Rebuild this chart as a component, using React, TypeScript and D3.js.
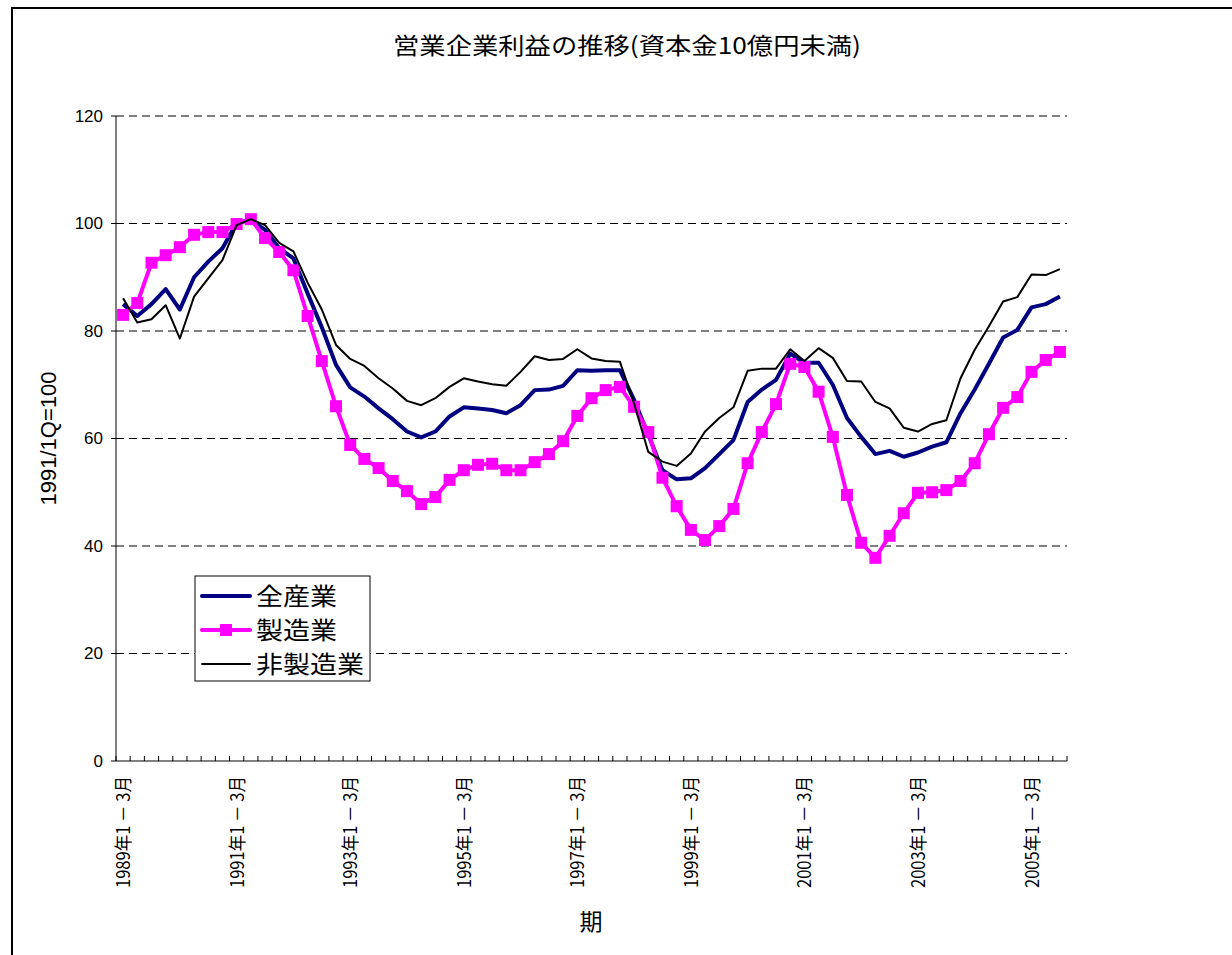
import React from 'react';
import * as d3 from 'd3';

// quarters 1989 Q1 .. 2005 Q3
const startYear = 1989;
const quarterCount = 67;
const quarters = d3.range(quarterCount).map((i) => {
  const y = startYear + Math.floor(i / 4);
  const q = i % 4;
  const m = ['1 － 3月', '4 － 6月', '7 － 9月', '10 － 12月'][q];
  return `${y}年${m}`;
});

const allIndustry = [
  85.0, 82.8, 85.0, 87.8, 84.0, 90.0, 92.9, 95.4, 100.1, 100.7,
  98.8, 95.4, 93.5, 87.0, 80.7, 73.7, 69.5, 67.8, 65.6, 63.6,
  61.3, 60.2, 61.3, 64.1, 65.8, 65.6, 65.3, 64.7, 66.2, 69.0,
  69.1, 69.8, 72.7, 72.6, 72.7, 72.7, 67.2, 60.7, 54.1, 52.4,
  52.6, 54.5, 57.1, 59.7, 66.8, 69.1, 70.9, 75.8, 74.1, 74.1,
  70.0, 63.8, 60.3, 57.1, 57.7, 56.6, 57.4, 58.5, 59.3, 64.7,
  69.1, 73.9, 78.8, 80.2, 84.4, 85.0, 86.4,
];

const manufacturing = [
  83.0, 85.2, 92.7, 94.1, 95.6, 97.9, 98.4, 98.4, 99.9, 100.8,
  97.3, 94.7, 91.3, 82.8, 74.4, 66.0, 58.8, 56.2, 54.5, 52.1,
  50.2, 47.8, 49.1, 52.3, 54.1, 55.1, 55.3, 54.1, 54.1, 55.6,
  57.1, 59.5, 64.2, 67.5, 69.0, 69.6, 65.9, 61.2, 52.7, 47.4,
  43.0, 41.1, 43.7, 46.9, 55.4, 61.2, 66.4, 73.9, 73.3, 68.7,
  60.3, 49.5, 40.6, 37.8, 41.9, 46.1, 49.9, 50.0, 50.4, 52.1,
  55.4, 60.8, 65.7, 67.7, 72.4, 74.6, 76.1,
];

const nonManufacturing = [
  86.1, 81.6, 82.2, 84.8, 78.6, 86.4, 89.8, 93.2, 99.7, 100.8,
  99.7, 96.4, 94.8, 89.0, 84.0, 77.4, 74.8, 73.5, 71.2, 69.3,
  67.0, 66.2, 67.5, 69.6, 71.2, 70.6, 70.1, 69.8, 72.4, 75.3,
  74.6, 74.8, 76.6, 74.9, 74.4, 74.3, 66.5, 57.5, 55.7, 54.9,
  57.2, 61.3, 63.8, 65.8, 72.6, 73.0, 73.0, 76.6, 74.4, 76.8,
  75.0, 70.7, 70.6, 66.8, 65.6, 62.0, 61.3, 62.7, 63.4, 71.2,
  76.5, 80.9, 85.5, 86.3, 90.5, 90.4, 91.5,
];

const yTicks = [0, 20, 40, 60, 80, 100, 120];

const seriesNames = ['全産業', '製造業', '非製造業'];

const jpFont = '"Noto Sans CJK JP", "Liberation Sans", sans-serif';
const numFont = '"Liberation Sans Narrow", "Liberation Sans", Arial, sans-serif';

const App: React.FC = () => {
  const width = 1232;
  const height = 955;
  const plot = {left: 116, right: 1067, top: 116, bottom: 761};

  const x = d3.scaleBand<string>()
      .domain(quarters)
      .range([plot.left, plot.right])
      .padding(0);
  const y = d3.scaleLinear().domain([0, 120]).range([plot.bottom, plot.top]);
  const cx = (i: number) => (x(quarters[i]) as number) + x.bandwidth() / 2;

  const line = d3.line<number>()
      .x((_, i) => cx(i))
      .y((d) => y(d));

  const series = [
    {name: seriesNames[0], data: allIndustry, color: '#000080', w: 4, marker: false},
    {name: seriesNames[1], data: manufacturing, color: '#FF00FF', w: 4, marker: true},
    {name: seriesNames[2], data: nonManufacturing, color: '#000000', w: 2, marker: false},
  ];

  const ms = 12;
  const legend = {x: 195, y: 576, w: 175, h: 105};

  return (
    <svg width={width} height={height}
      style={{position: 'absolute', left: 0, top: 0, background: '#fff'}}>
      <rect x={12} y={8} width={1240} height={960} fill="#fff" stroke="#000" strokeWidth={2}/>

      <text x={627} y={54} textAnchor="middle" fontFamily={jpFont} fontSize={23}
        textLength={468} lengthAdjust="spacingAndGlyphs">
        営業企業利益の推移(資本金10億円未満)
      </text>

      {/* grid */}
      {yTicks.filter((t) => t > 0).map((t) => (
        <line key={t} x1={plot.left} x2={plot.right} y1={y(t)} y2={y(t)}
          stroke="#000" strokeWidth={1} strokeDasharray="8,5"/>
      ))}

      {/* y axis */}
      <line x1={plot.left} x2={plot.left} y1={plot.top} y2={plot.bottom} stroke="#000" strokeWidth={1}/>
      {yTicks.map((t) => (
        <g key={t}>
          <line x1={plot.left - 5} x2={plot.left} y1={y(t)} y2={y(t)} stroke="#000"/>
          <text x={plot.left - 13} y={y(t)} dy="0.35em" textAnchor="end"
            fontFamily={numFont} fontSize={17}>{t}</text>
        </g>
      ))}
      <text transform={`translate(56, ${(plot.top + plot.bottom) / 2}) rotate(-90)`}
        textAnchor="middle" fontFamily={numFont} fontSize={22}>1991/1Q=100</text>

      {/* x axis */}
      <line x1={plot.left} x2={plot.right} y1={plot.bottom} y2={plot.bottom} stroke="#000"/>
      {d3.range(quarterCount + 1).map((i) => {
        const xx = plot.left + i * x.bandwidth();
        return <line key={i} x1={xx} x2={xx} y1={plot.bottom - 5} y2={plot.bottom} stroke="#000"/>;
      })}
      {quarters.map((q, i) => (i % 8 === 0 ? (
        <text key={q} transform={`translate(${cx(i) + 7}, 776) rotate(-90)`}
          textAnchor="end" fontFamily={jpFont} fontSize={18}
          textLength={112} lengthAdjust="spacingAndGlyphs">{q}</text>
      ) : null))}
      <text x={591} y={930} textAnchor="middle" fontFamily={jpFont} fontSize={23}>期</text>

      {/* series */}
      {series.map((s) => (
        <g key={s.name}>
          <path d={line(s.data) ?? ''} fill="none" stroke={s.color} strokeWidth={s.w}
            strokeLinejoin="round"/>
          {s.marker && s.data.map((v, i) => (
            <rect key={i} x={cx(i) - ms / 2} y={y(v) - ms / 2} width={ms} height={ms} fill={s.color}/>
          ))}
        </g>
      ))}

      {/* legend */}
      <rect x={legend.x} y={legend.y} width={legend.w} height={legend.h} fill="#fff" stroke="#000"/>
      {series.map((s, i) => {
        const ly = legend.y + 20 + i * 34;
        return (
          <g key={s.name}>
            <line x1={legend.x + 7} x2={legend.x + 55} y1={ly} y2={ly} stroke={s.color}
              strokeWidth={s.w} strokeLinecap="round"/>
            {s.marker && <rect x={legend.x + 31 - 6} y={ly - 6} width={12} height={12} fill={s.color}/>}
            <text x={legend.x + 61} y={ly} dy="0.36em" fontFamily={jpFont} fontSize={24}
              textLength={s.name.length * 27} lengthAdjust="spacingAndGlyphs">{s.name}</text>
          </g>
        );
      })}
    </svg>
  );
};

export default App;
